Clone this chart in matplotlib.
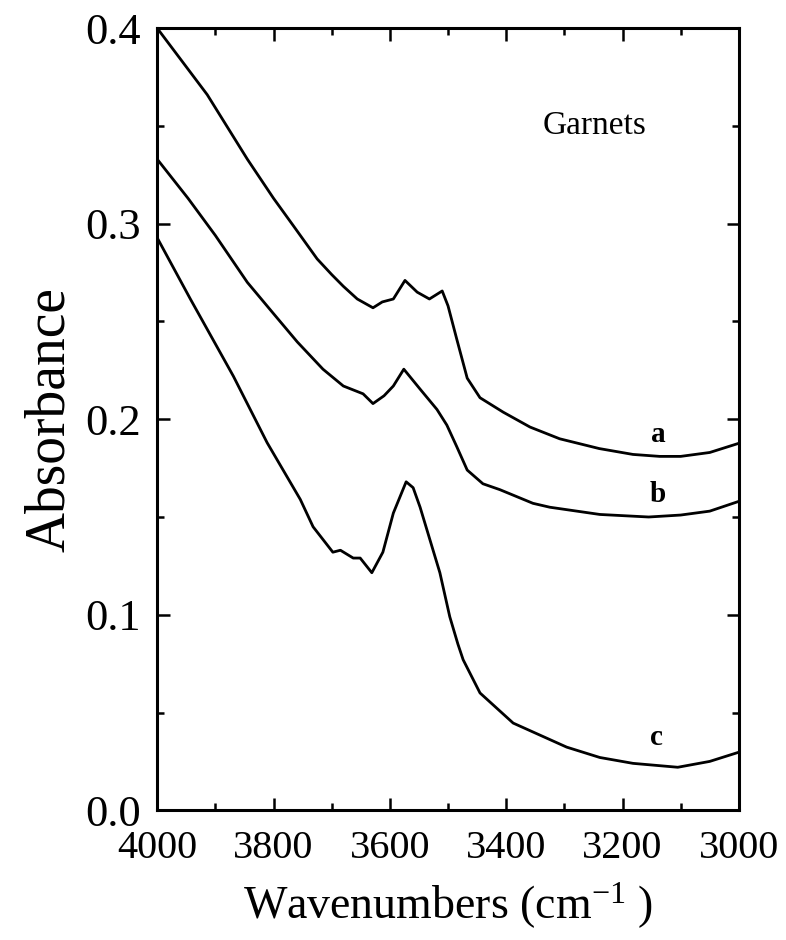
#!/usr/bin/env python

import numpy as np
import matplotlib
matplotlib.use("Agg")
from matplotlib import pyplot as plt
from matplotlib.ticker import MultipleLocator, FormatStrFormatter

# spectra (wavenumber, absorbance)
wn_a = [4000, 3914, 3845, 3800, 3766, 3725, 3700, 3680, 3656, 3629, 3613, 3594, 3574,
        3553, 3532, 3510, 3500, 3485, 3467, 3445, 3405, 3359, 3325, 3308, 3240, 3182,
        3136, 3100, 3050, 3000]
abs_a = [0.400, 0.366, 0.333, 0.313, 0.299, 0.282, 0.274, 0.268, 0.2615, 0.257, 0.260,
         0.2615, 0.271, 0.265, 0.2615, 0.2656, 0.258, 0.241, 0.221, 0.211, 0.2036, 0.196,
         0.192, 0.190, 0.185, 0.182, 0.181, 0.181, 0.183, 0.1877]

wn_b = [4000, 3947, 3900, 3845, 3800, 3759, 3715, 3680, 3646, 3629, 3610, 3594, 3576,
        3548, 3519, 3502, 3485, 3467, 3440, 3411, 3354, 3325, 3239, 3155, 3100, 3050, 3000]
abs_b = [0.333, 0.313, 0.294, 0.270, 0.254, 0.2395, 0.2256, 0.217, 0.213, 0.208, 0.212,
         0.217, 0.2256, 0.2154, 0.205, 0.197, 0.186, 0.174, 0.167, 0.164, 0.157, 0.155,
         0.1513, 0.150, 0.151, 0.153, 0.158]

wn_c = [4000, 3943, 3869, 3811, 3754, 3732, 3698, 3685, 3663, 3651, 3631, 3612, 3594,
        3572, 3560, 3548, 3514, 3497, 3483, 3474, 3445, 3388, 3296, 3239, 3182, 3105,
        3050, 3000]
abs_c = [0.2928, 0.2615, 0.222, 0.188, 0.159, 0.145, 0.132, 0.133, 0.129, 0.129, 0.1215,
         0.132, 0.152, 0.168, 0.165, 0.155, 0.1215, 0.099, 0.085, 0.077, 0.060, 0.0446,
         0.0323, 0.027, 0.024, 0.022, 0.025, 0.0297]

curve_labels = ["a", "b", "c"]
label_pos = [(3139, 0.192), (3139, 0.1615), (3142, 0.037)]

plt.rcParams['font.family'] = ['Liberation Serif', 'DejaVu Serif']
plt.rcParams['mathtext.fontset'] = 'custom'
plt.rcParams['mathtext.rm'] = 'Liberation Serif'
plt.rcParams['mathtext.it'] = 'Liberation Serif:italic'

fig = plt.figure(figsize=(7.86, 9.4), dpi=100)
ax = fig.add_axes([0.2, 0.138, 0.74, 0.832])

for x, y in [(wn_a, abs_a), (wn_b, abs_b), (wn_c, abs_c)]:
    ax.plot(x, y, color='black', lw=2.0, solid_joinstyle='round')

for lab, (x, y) in zip(curve_labels, label_pos):
    ax.text(x, y, lab, fontsize=21, fontweight='bold', ha='center', va='center')

ax.text(3337, 0.350, "Garnets", fontsize=24, ha='left', va='center')

ax.set_xlim(4000, 3000)
ax.set_ylim(0.0, 0.4)
ax.xaxis.set_major_locator(MultipleLocator(200))
ax.xaxis.set_minor_locator(MultipleLocator(100))
ax.yaxis.set_major_locator(MultipleLocator(0.1))
ax.yaxis.set_minor_locator(MultipleLocator(0.05))
ax.yaxis.set_major_formatter(FormatStrFormatter('%.1f'))

ax.tick_params(which='both', direction='in', top=True, right=True, width=1.8)
ax.tick_params(which='major', length=9)
ax.tick_params(which='minor', length=5)
ax.tick_params(axis='x', labelsize=29, pad=14)
ax.tick_params(axis='y', labelsize=32, pad=12)
for s in ax.spines.values():
    s.set_linewidth(2.2)

ax.set_xlabel("Wavenumbers (cm$^{-1}$ )", fontsize=33, labelpad=10)
ax.set_ylabel("Absorbance", fontsize=40, labelpad=6)

fig.savefig("out.png", dpi=100)
